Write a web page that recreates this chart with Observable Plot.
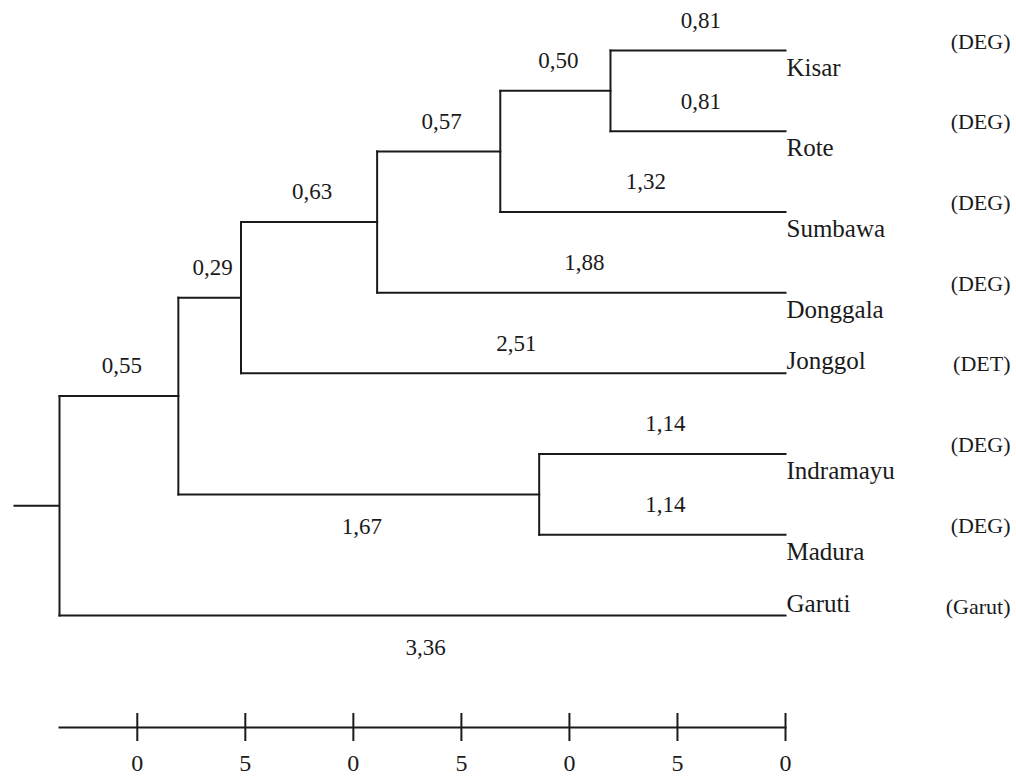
<!DOCTYPE html>
<html>
<head>
<meta charset="utf-8">
<script src="https://cdn.jsdelivr.net/npm/d3@7"></script>
<script src="https://cdn.jsdelivr.net/npm/@observablehq/plot@0.6"></script>
<style>
  html, body { margin: 0; padding: 0; background: #fff; }
  #chart svg { display: block; font-family: 'Liberation Serif', 'Times New Roman', serif !important; }
  #chart svg text { font-family: 'Liberation Serif', 'Times New Roman', serif !important; }
</style>
</head>
<body>
<div id="chart"></div>
<script>
// ---- data ----
const leaves = ["Kisar", "Rote", "Sumbawa", "Donggala", "Jonggol", "Indramayu", "Madura", "Garuti"];
const groups = ["(DEG)", "(DEG)", "(DEG)", "(DEG)", "(DET)", "(DEG)", "(DEG)", "(Garut)"];

// merges (bottom-up): node id, its two children and their branch lengths
const mergeIds = ["n1", "n2", "n3", "n4", "n5", "n6", "root"];
const mergeA   = ["Kisar", "n1", "n2", "n3", "Indramayu", "n4", "n6"];
const mergeB   = ["Rote", "Sumbawa", "Donggala", "Jonggol", "Madura", "n5", "Garuti"];
const branchA  = [0.81, 0.50, 0.57, 0.63, 1.14, 0.29, 0.55];
const branchB  = [0.81, 1.32, 1.88, 2.51, 1.14, 1.67, 3.36];

// axis ticks (distance from the tips) and their printed labels
const tickValues = [3, 2.5, 2, 1.5, 1, 0.5, 0];
const tickLabels = ["0", "5", "0", "5", "0", "5", "0"];

// ---- layout choices ----
const labelsBelow = new Set(["n5", "Garuti"]);   // branch labels drawn under their branch
const namesOnLine = new Set(["Jonggol", "Garuti"]); // leaf names sitting on their line
const rootStub = 0.213;

// ---- tree geometry ----
const H = new Map(), Y = new Map();
leaves.forEach((n, i) => { H.set(n, 0); Y.set(n, i); });
mergeIds.forEach((id, i) => {
  const a = mergeA[i], b = mergeB[i];
  H.set(id, Math.max(H.get(a) + branchA[i], H.get(b) + branchB[i]));
  Y.set(id, (Y.get(a) + Y.get(b)) / 2);
});

const branches = [];
const verticals = [];
mergeIds.forEach((id, i) => {
  const h = H.get(id);
  [[mergeA[i], branchA[i]], [mergeB[i], branchB[i]]].forEach(([c, len]) => {
    branches.push({parent: id, child: c, x1: h, x2: H.get(c), y: Y.get(c), len, below: labelsBelow.has(c)});
  });
  verticals.push({x: h, y1: Y.get(mergeA[i]), y2: Y.get(mergeB[i])});
});
const rootH = H.get("root");
const stub = [{x1: rootH, x2: rootH + rootStub, y: Y.get("root")}];

const leafRows = leaves.map((n, i) => ({name: n, group: groups[i], y: i, onLine: namesOnLine.has(n)}));

const W = 1016, HT = 778;
const mTop = 0, mBottom = 51;
const ink = "#1a1a1a";
const font = "'Liberation Serif', 'Times New Roman', serif";
const fmt = v => v.toFixed(2).replace(".", ",");

const chart = Plot.plot({
  width: W,
  height: HT,
  marginLeft: 59,
  marginRight: 231,
  marginTop: mTop,
  marginBottom: mBottom,
  style: {fontFamily: font, background: "#fff", color: ink},
  x: {domain: [rootH, 0], axis: null},
  y: {domain: [0, leaves.length - 1], range: [50, 615], axis: null},
  marks: [
    // tree
    Plot.link(branches, {x1: "x1", x2: "x2", y1: "y", y2: "y", stroke: ink, strokeWidth: 2, strokeLinecap: "square"}),
    Plot.link(verticals, {x1: "x", x2: "x", y1: "y1", y2: "y2", stroke: ink, strokeWidth: 2, strokeLinecap: "square"}),
    Plot.link(stub, {x1: "x1", x2: "x2", y1: "y", y2: "y", stroke: ink, strokeWidth: 2}),
    // branch length labels
    Plot.text(branches.filter(d => !d.below), {
      x: d => (d.x1 + d.x2) / 2, y: "y", text: d => fmt(d.len),
      dx: 3, dy: -30, fontSize: 23, fontFamily: font, fill: ink, lineAnchor: "middle"
    }),
    Plot.text(branches.filter(d => d.below), {
      x: d => (d.x1 + d.x2) / 2, y: "y", text: d => fmt(d.len),
      dx: 3, dy: 32, fontSize: 23, fontFamily: font, fill: ink, lineAnchor: "middle"
    }),
    // leaf names
    Plot.text(leafRows.filter(d => !d.onLine), {
      x: () => 0, y: "y", text: "name", textAnchor: "start", dx: 1, dy: 17,
      fontSize: 25, fontFamily: font, fill: ink, lineAnchor: "middle"
    }),
    Plot.text(leafRows.filter(d => d.onLine), {
      x: () => 0, y: "y", text: "name", textAnchor: "start", dx: 1, dy: -12,
      fontSize: 25, fontFamily: font, fill: ink, lineAnchor: "middle"
    }),
    // group labels
    Plot.text(leafRows, {
      x: () => 0, y: "y", text: "group", textAnchor: "end", dx: 225, dy: -9,
      fontSize: 22, fontFamily: font, fill: ink, lineAnchor: "middle"
    }),
    // axis
    Plot.frame({anchor: "bottom", stroke: ink, strokeWidth: 2}),
    Plot.ruleX(tickValues, {
      x: d => d, stroke: ink, strokeWidth: 2,
      insetTop: HT - mTop - mBottom - 14, insetBottom: -14
    }),
    Plot.text(tickValues, {
      x: d => d, frameAnchor: "bottom", dy: 36,
      text: d => tickLabels[tickValues.indexOf(d)],
      fontSize: 24, fontFamily: font, fill: ink, lineAnchor: "middle"
    })
  ]
});

document.getElementById("chart").appendChild(chart);
</script>
</body>
</html>
